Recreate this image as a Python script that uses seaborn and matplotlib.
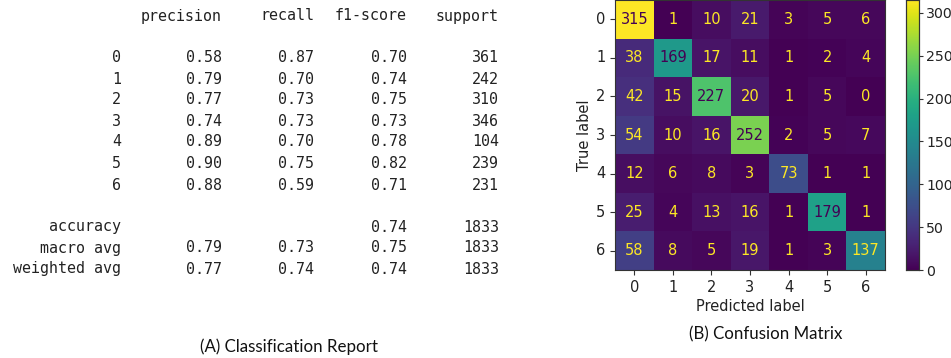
import numpy as np
import pandas as pd
import matplotlib
matplotlib.use("Agg")
import matplotlib.pyplot as plt
import seaborn as sns

# ---------------- data ----------------
classes = ["0", "1", "2", "3", "4", "5", "6"]
precision = [0.58, 0.79, 0.77, 0.74, 0.89, 0.90, 0.88]
recall = [0.87, 0.70, 0.73, 0.73, 0.70, 0.75, 0.59]
f1_score = [0.70, 0.74, 0.75, 0.73, 0.78, 0.82, 0.71]
support = [361, 242, 310, 346, 104, 239, 231]
summary_labels = ["accuracy", "macro avg", "weighted avg"]
summary_precision = [None, 0.79, 0.77]
summary_recall = [None, 0.73, 0.74]
summary_f1 = [0.74, 0.75, 0.74]
summary_support = [1833, 1833, 1833]
report_headers = ["precision", "recall", "f1-score", "support"]

confusion = [
    [315, 1, 10, 21, 3, 5, 6],
    [38, 169, 17, 11, 1, 2, 4],
    [42, 15, 227, 20, 1, 5, 0],
    [54, 10, 16, 252, 2, 5, 7],
    [12, 6, 8, 3, 73, 1, 1],
    [25, 4, 13, 16, 1, 179, 1],
    [58, 8, 5, 19, 1, 3, 137],
]
cbar_ticks = [0, 50, 100, 150, 200, 250, 300]

caption_a = "(A) Classification Report"
caption_b = "(B) Confusion Matrix"

# ---------------- figure ----------------
W, H = 951, 358
fig = plt.figure(figsize=(W / 100, H / 100), dpi=100)
fig.patch.set_facecolor("white")

def fx(px):
    return px / W

def fy(py):
    return 1 - py / H

# ----- left panel: classification report as text -----
mono = "DejaVu Sans Mono"
tcol = "#222222"
fs = 10.8
col_right = [222, 314, 407, 499]
label_right = 121
for h, xr in zip(report_headers, col_right):
    fig.text(fx(xr), fy(16), h, ha="right", va="center", family=mono, fontsize=fs, color=tcol)

row_y = [58, 79, 100, 121, 142, 163, 185]
for i, c in enumerate(classes):
    y = fy(row_y[i])
    fig.text(fx(label_right), y, c, ha="right", va="center", family=mono, fontsize=fs, color=tcol)
    vals = [f"{precision[i]:.2f}", f"{recall[i]:.2f}", f"{f1_score[i]:.2f}", f"{support[i]}"]
    for v, xr in zip(vals, col_right):
        fig.text(fx(xr), y, v, ha="right", va="center", family=mono, fontsize=fs, color=tcol)

sum_y = [227, 248, 269]
for i, lab in enumerate(summary_labels):
    y = fy(sum_y[i])
    fig.text(fx(label_right), y, lab, ha="right", va="center", family=mono, fontsize=fs, color=tcol)
    vals = [summary_precision[i], summary_recall[i], summary_f1[i]]
    for v, xr in zip(vals, col_right[:3]):
        if v is not None:
            fig.text(fx(xr), y, f"{v:.2f}", ha="right", va="center", family=mono, fontsize=fs, color=tcol)
    fig.text(fx(col_right[3]), y, str(summary_support[i]), ha="right", va="center",
             family=mono, fontsize=fs, color=tcol)

fig.text(fx(289), fy(347), caption_a, ha="center", va="center", family="Lato",
         fontsize=12.2, color="#111111")
fig.text(fx(766), fy(334), caption_b, ha="center", va="center", family="Lato",
         fontsize=12.2, color="#111111")

# ----- right panel: confusion matrix heatmap -----
cm = pd.DataFrame(np.array(confusion), index=classes, columns=classes)
vmax = int(cm.values.max())
ax = fig.add_axes([fx(615), fy(270), fx(270), 270 / H])
cax = fig.add_axes([fx(905.5), fy(270), fx(13.5), 270 / H])

sns.heatmap(cm, ax=ax, cbar_ax=cax, cmap="viridis", vmin=0, vmax=vmax,
            annot=True, fmt="d", annot_kws={"fontsize": 10.5}, square=False,
            cbar_kws={"ticks": cbar_ticks})

cmap = plt.get_cmap("viridis")
thresh = vmax / 2.0
for t in ax.texts:
    v = int(t.get_text())
    t.set_color(cmap(0.0) if v >= thresh else cmap(1.0))

for s in ax.spines.values():
    s.set_visible(True)
    s.set_color("#333333")
    s.set_linewidth(0.8)
ax.tick_params(axis="both", length=3.5, width=0.8, labelsize=10.5, colors="#333333",
               labelcolor="#222222")
ax.set_yticklabels(classes, rotation=0)
ax.set_xticklabels(classes, rotation=0)
ax.set_xlabel("Predicted label", fontsize=10.5, color="#222222", labelpad=3)
ax.set_ylabel("True label", fontsize=10.5, color="#222222", labelpad=3)

cax.tick_params(length=3, width=0.8, pad=2, labelsize=10.2, colors="#333333", labelcolor="#222222")
cax.set_frame_on(True)
for s in cax.spines.values():
    s.set_visible(True)
    s.set_color("#333333")
    s.set_linewidth(0.8)

fig.savefig("out.png", dpi=100, facecolor="white")
